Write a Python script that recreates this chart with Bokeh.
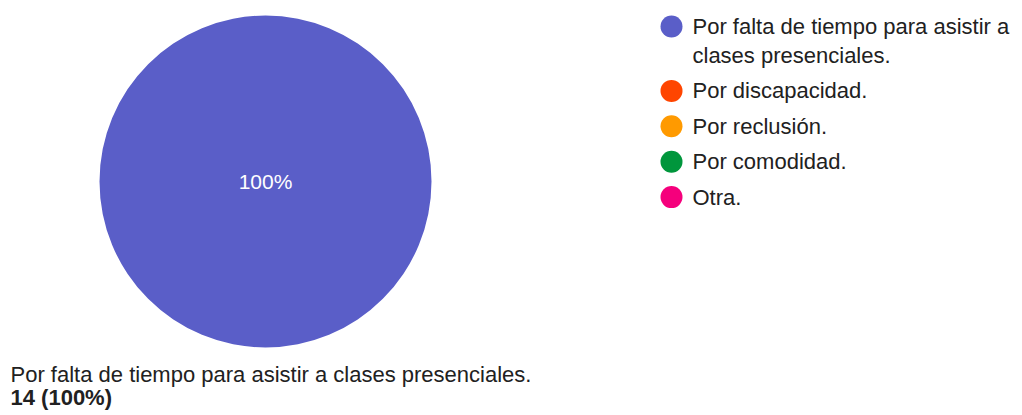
import math
import textwrap
from bokeh.plotting import figure
from bokeh.models import Range1d
from bokeh.core.properties import value
from bokeh.embed import file_html
from bokeh.resources import INLINE

# ---- data ----
categories = [
    "Por falta de tiempo para asistir a clases presenciales.",
    "Por discapacidad.",
    "Por reclusión.",
    "Por comodidad.",
    "Otra.",
]
counts = [14, 0, 0, 0, 0]
colors = ["#5a5ec8", "#ff4500", "#ff9a00", "#00963c", "#f5007c"]

# ---- layout (screen pixels of the page) ----
W, H = 1020, 413
M = 0
FONT = "Liberation Sans"
TXT = "#212121"


def sx(x):
    return x - M


def sy(y):
    return H - (y - M)


p = figure(width=W, height=H, output_backend="svg", toolbar_location=None,
           x_range=Range1d(0, W), y_range=Range1d(0, H), min_border=0,
           background_fill_color="white", border_fill_color="white")
p.axis.visible = False
p.grid.visible = False
p.outline_line_color = None

# ---- pie ----
cx, cy, R = sx(265), sy(181), 166
total = sum(counts)
starts, ends, cols, labs, lx, ly = [], [], [], [], [], []
acc = 0.0
for c, col in zip(counts, colors):
    if c == 0:
        continue
    frac = c / total
    a0 = math.pi / 2 - 2 * math.pi * acc
    a1 = math.pi / 2 - 2 * math.pi * (acc + frac)
    starts.append(a1)
    ends.append(a0)
    cols.append(col)
    labs.append(f"{round(frac * 100)}%")
    if frac >= 0.999:
        lx.append(cx)
        ly.append(cy)
    else:
        mid = (a0 + a1) / 2
        lx.append(cx + 0.6 * R * math.cos(mid))
        ly.append(cy + 0.6 * R * math.sin(mid))
    acc += frac

full = [e - s >= 2 * math.pi - 1e-9 for s, e in zip(starts, ends)]
for s, e, col, f in zip(starts, ends, cols, full):
    if f:
        p.circle(x=[cx], y=[cy], radius=R, fill_color=col, line_color=None)
    else:
        p.wedge(x=[cx], y=[cy], radius=R, start_angle=[s], end_angle=[e],
                fill_color=col, line_color="white", line_width=1)

p.text(x=lx, y=ly, text=labs, text_color="white", text_font=value(FONT),
       text_font_size="21px", text_align="center", text_baseline="middle")

# ---- legend ----
mx, my, lxs, lys, ltx = [], [], [], [], []
y = 26
for cat, col in zip(categories, colors):
    lines = textwrap.wrap(cat, 34)
    mx.append(sx(671))
    my.append(sy(y))
    for i, ln in enumerate(lines):
        lxs.append(sx(692))
        lys.append(sy(y + 29 * i))
        ltx.append(ln)
    y += 35.4 + 29 * (len(lines) - 1)

p.scatter(x=mx, y=my, size=22, marker="circle", fill_color=colors,
          line_color=None)
p.text(x=lxs, y=lys, text=ltx, text_color=TXT, text_font=value(FONT),
       text_font_size="22px", text_align="left", text_baseline="middle")

# ---- bottom summary ----
top = max(range(len(counts)), key=lambda i: counts[i])
p.text(x=[sx(10)], y=[sy(374)], text=[categories[top]], text_color=TXT,
       text_font=value(FONT), text_font_size="22px", text_align="left",
       text_baseline="middle")
p.text(x=[sx(10)], y=[sy(397)],
       text=[f"{counts[top]} ({round(100 * counts[top] / total)}%)"],
       text_color=TXT, text_font=value(FONT), text_font_size="22px",
       text_font_style="bold", text_align="left", text_baseline="middle")

open("out.html", "w").write(file_html(p, INLINE))
